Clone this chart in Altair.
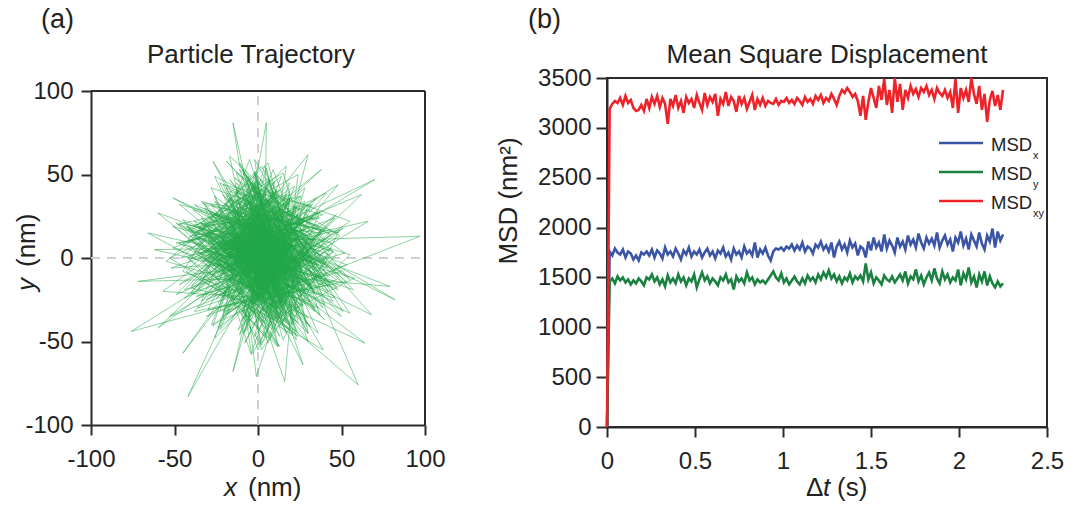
import altair as alt
import pandas as pd

FONT = "Liberation Sans"
INK = "#222222"
FRAME = "#2b2b2b"

# ---------------- panel (a): particle trajectory (nm) ----------------
traj_x = [
    3, -12, 25, -30, 8, 41, -5, -22, 15, 33, -40, 2, 19, -9, -27, 36, -15, 6, 28, -34,
    11, -3, 44, -18, 22, -46, 7, -25, 31, 0, -13, 17, -38, 26, 4, -7, 39, -21, 13, -31,
    21, -10, 5, 48, -28, -2, 16, -43, 29, 9, -16, 35, -6, 24, -36, 1, 14, -24, 42, -11,
    -15, 4, 5, -8, 97, 12, -76, 20, -3, -42, 18, 60, -20, 70, 2, 82, -10, -27, 9, -72,
    14, -66, 6, 64, -12, 38, -4, 30, 10, 27, -18, 16, 23, -1, -6, -15, 8, -45, 19, -60,
    0, -33, 18, 37, -20, 7, -49, 26, -8, 13, 45, -26, -1, 32, -14, 52, -37, 10, -5, 22,
    -19, 40, -7, 15, -29, 3, 28, -41, 12, -3, 21, -12, 51, -24, 6, -33, 17, 34, -9, 1,
    9, -21, 47, -4, -35, 24, 11, -16, 36, -28, 5, 19, -44, 30, -11, 2, 55, -6, 15, -23,
    26, -13, 4, -39, 33, 13, -2, 43, -30, 8, -20, 28, -8, 17, -52, 39, -17, 6, 23, -34,
    14, -26, 31, -5, 50, -15, 20, 1, -42, 12, -9, 37, -22, 27, -3, 9, -31, 44, -14, 7,
    -23, 18, -1, 34, -12, 25, -47, 3, 16, -27, 41, -6, 10, -18, 30, -36, 21, 0, -10, 48,
    -2, 29, -15, 11, -40, 22, 5, -25, 38, -8, 14, -32, 19, -4, 46, -19, 8, -11, 26, -48,
    4, 32, -21, 15, -7, 40, -29, 7, 24, -14, 53, -38, 2, 18, -5, -22, 35, -1, 12, -33,
    20, -9, 43, -24, 6, 29, -17, -45, 13, 37, -3, 22, -30, 9, 58, -12, 25, -6, -27, 16,
    -36, 10, -4, 31, -19, 3, 47, -10, 19, -44, 27, -2, 12, -25, 36, -13, 5, 62, -7, 17,
    66, -5, -62, 8, 79, -14, -51, 21, -60, 3, -57, 11, 55, -20, 48, 0, -53, 26, 68, -9,
    12, -25, 31, -6, 38, -29, 4, 19, -41, 15, -2, 33, -20, 8, 44, -12, -35, 23, 0, -27,
    17, -9, 35, -37, 6, 28, -19, 50, -4, -43, 21, 13, -28, 41, -15, 2, 30, -47, 10, -23,
    36, -11, 5, 24, -32, 13, -49, 19, 30, -7, 43, -21, -2, 15, -38, 26, 6, -17, 53, -28,
    2, 22, -13, 46, -26, 9, 32, -40, 17, -4, 28, -19, 57, -30, 11, -8, 39, -53, 19, -15,
    26, -34, 15, -2, 49, -21, 7, 34, -11, 22, -45, 4, 30, -17, -6, 42, -28, 13, 24, -38,
    9, -19, 40, -4, -30, 19, 55, -13, 28, -36, 2, 17, -24, 36, -9, 24, -49, 32, -2, 13,
    -15, 30, 4, -42, 19, -6, 38, -26, 13, 47, -17, 0, 26, -32, 9, 34, -11, -55, 21, 6,
    32, -23, 11, 19, -38, 2, 51, -15, -4, 28, -30, 15, 40, -19, 4, -34, 23, 9, -51, 17,
    -6, 23, -36, 13, 30, -13, 2, 45, -26, 19, -9, 34, -42, 6, 26, -21, 15, -2, 38, -32,
    13, -28, 42, -11, 21, -47, 6, 32, -17, 2, 55, -23, 17, -6, -38, 28, 11, -19, 34, -4,
    21, -2, -34, 17, 36, -15, 9, -45, 26, 4, -23, 40, -9, 15, 49, -30, 0, 19, -40, 30,
    -19, 11, 28, -26, 4, 38, -13, 23, -36, 9, 17, -4, 45, -28, 13, -42, 32, -11, 6, 26,
    15, -30, 6, 34, -17, 26, -51, 11, 19, -2, 30, -34, 2, 42, -21, 13, -6, 36, -26, 4,
    -23, 34, -9, 17, 47, -32, 13, -15, 23, -42, 6, 28, -11, 19, -28, 38, -2, 11, -47, 21,
    4, -13, 30, -38, 15, 40, -21, 0, 26, -19, 51, -6, 17, -30, 32, -4, -36, 13, 23, -11,
    28, -21, 2, 36, -26, 11, -40, 21, -9, 45, -17, 6, 32, -34, 17, -2, 26, -15, 9, 0,
    5, -8, 12, -3, 18, -14, 2, 9, -19, 7, -1, 15, -10, 4, 21, -6, -16, 11, 0, -12,
    8, -4, 16, -17, 3, 13, -9, 24, -2, -20, 10, 6, -13, 19, -7, 1, 14, -22, 5, -11,
    17, -5, 2, 11, -15, 6, -23, 9, 14, -3, 20, -10, -1, 7, -18, 12, 3, -8, 25, -13,
    1, 10, -6, 22, -12, 4, 15, -19, 8, -2, 13, -9, 27, -14, 5, -4, 18, -25, 9, -7,
    12, -16, 7, -1, 23, -10, 3, 16, -5, 10, -21, 2, 14, -8, -3, 20, -13, 6, 11, -18,
    4, -9, 19, -2, -14, 9, 26, -6, 13, -17, 1, 8, -11, 17, -4, 11, -23, 15, -1, 6,
    -7, 14, 2, -20, 9, -3, 18, -12, 6, 22, -8, 0, 12, -15, 4, 16, -5, -26, 10, 3,
    15, -11, 5, 9, -18, 1, 24, -7, -2, 13, -14, 7, 19, -9, 2, -16, 11, 4, -24, 8,
    -3, 11, -17, 6, 14, -6, 1, 21, -12, 9, -4, 16, -20, 3, 12, -10, 7, -1, 18, -15,
    6, -13, 20, -5, 10, -22, 3, 15, -8, 1, 26, -11, 8, -3, -18, 13, 5, -9, 16, -2,
    10, -1, -16, 8, 17, -7, 4, -21, 12, 2, -11, 19, -4, 7, 23, -14, 0, 9, -19, 14,
    -9, 5, 13, -12, 2, 18, -6, 11, -17, 4, 8, -2, 21, -13, 6, -20, 15, -5, 3, 12,
    7, -14, 3, 16, -8, 12, -24, 5, 9, -1, 14, -16, 1, 20, -10, 6, -3, 17, -12, 2,
    -11, 16, -4, 8, 22, -15, 6, -7, 11, -20, 3, 13, -5, 9, -13, 18, -1, 5, -22, 10,
    2, -6, 14, -18, 7, 19, -10, 0, 12, -9, 24, -3, 8, -14, 15, -2, -17, 6, 11, -5,
    13, -10, 1, 17, -12, 5, -19, 10, -4, 21, -8, 3, 15, -16, 8, -1, 12, -7, 4, 0,
]
traj_y = [
    -8, 20, -15, 5, 32, -10, -35, 14, 2, 25, -18, -28, 40, 9, -4, -22, 30, -41, 11, 17,
    35, -20, 6, -33, 18, 0, 45, -12, -26, 12, 28, -45, 22, -3, -17, 50, -30, 38, -6, -25,
    8, -38, 24, 15, 42, -14, -2, 19, -40, 30, -9, 36, -24, -47, 4, 26, -30, 10, -20, 55,
    81, -5, 81, 10, 13, -20, -44, 16, 3, -83, 22, -76, -7, 47, 15, -25, 30, 58, -12, -14,
    -3, 15, -24, -51, 7, 53, 19, 62, -15, -64, 25, -74, 4, -71, -30, -68, 12, -57, 34, -42,
    2, -12, 27, -34, 33, -6, 9, 21, -44, 16, -19, 37, -27, 6, 48, 3, -23, -9, 20, -36,
    24, -4, 38, -29, 13, -17, 31, -1, -37, 45, 0, -21, 18, -42, 28, 33, -12, 12, -3, -26,
    16, -32, -13, 23, 19, -39, 41, 5, 27, -11, -48, 36, -24, 9, 1, -15, 22, 44, -33, 7,
    -20, 14, -5, 29, 11, -27, 52, -16, -31, 39, 7, 17, -51, -1, -6, 26, 40, -36, 30, 3,
    10, 34, -41, 18, -8, -25, 6, 31, 0, -53, 21, 24, 12, -29, 43, -18, -35, 14, 35, -13,
    -22, -7, 26, 9, -43, 37, -16, 13, -28, 20, -3, -38, 46, 3, 25, -30, -11, 19, 8, -19,
    28, -14, 5, 40, -21, 1, -33, 22, 15, -9, 49, 11, -40, 30, -24, -5, 17, -46, 37, 20,
    -10, 31, 44, -27, 8, -37, 27, 13, -4, 39, -14, -32, 22, -18, 59, 15, 5, -26, 33, -2,
    18, -45, 2, 25, -18, 14, 35, -8, -30, 28, -20, 43, 10, -37, -12, 7, -28, 24, -41, 1,
    12, 37, -23, -15, 29, -5, 26, -34, 45, -19, 4, 20, -53, -1, -30, 41, -16, 38, 9, -8,
    22, 6, 5, -11, -17, 19, 36, -3, 27, -24, -20, 30, -33, 0, 44, -15, -35, 13, -34, 4,
    6, -24, 17, 34, -11, 3, -39, 26, 13, -5, 42, -19, 30, -33, 9, 20, -13, -44, 24, 2,
    -28, 37, -3, 15, 48, -17, 11, -35, 29, -8, -46, 22, 5, 39, -26, -52, 13, 32, -15, 45,
    19, -6, 54, -30, 0, 41, -22, 8, -45, 28, 15, -36, 51, -13, 32, 4, -26, 22, -4, -40,
    30, -15, 2, 24, -48, 53, -9, 17, 38, -28, 6, 58, -19, 11, -36, 26, -55, 0, 34, -11,
    -2, 21, -40, 46, 13, -24, 32, -6, 57, -30, 9, 26, -50, 17, 36, -17, 4, -34, 50, 15,
    40, -34, 11, -58, 19, 28, -13, 45, -21, 4, -38, 55, 15, -4, 30, -45, 21, -17, 6, -26,
    -13, 32, -47, 9, 38, -28, 17, 49, -36, 2, 61, -21, 24, -6, -43, 13, 36, -2, -24, 26,
    11, -43, 28, -17, 4, 47, -32, 19, -57, 34, 0, -26, 17, 42, -13, 24, -49, 30, 6, -19,
    49, -9, 19, -38, 13, 34, -55, 4, 26, -17, 40, -30, 11, 57, -23, 0, 28, -47, 17, 32,
    -30, 15, -6, 53, -40, 21, 9, -19, 36, -51, 2, 26, -34, 45, 13, -11, -28, 38, -4, 19,
    4, 45, -26, 13, -15, 30, -42, 23, -9, 55, -32, 6, 36, -49, 17, -2, 40, -21, 11, -36,
    23, -19, 42, -6, -32, 15, 51, -38, 2, 28, -13, 38, -26, 9, -53, 19, 32, -15, 47, -6,
    -38, 9, 26, -21, 47, -4, 19, -30, 36, 11, -45, 17, 55, -11, 21, -34, 6, 28, -19, 40,
    13, -32, 53, 0, -17, 30, -47, 21, -6, 17, 42, -23, 4, -40, 32, -13, 59, -28, 9, 26,
    -21, 38, -13, 19, 51, -28, 6, -55, 26, 2, -15, 34, -38, 15, -2, 45, -19, 30, -32, 9,
    17, -6, 32, -45, 11, 40, -17, 28, -36, 4, 21, -51, 13, 34, -26, 51, -11, 19, -30, 6,
    3, -11, 8, 16, -5, 2, -18, 12, 6, -2, 20, -9, 14, -15, 4, 9, -6, -20, 11, 1,
    -13, 17, -1, 7, 23, -8, 5, -16, 13, -4, -22, 10, 2, 18, -12, -25, 6, 15, -7, 21,
    9, -3, 26, -14, 0, 19, -10, 4, -21, 13, 7, -17, 24, -6, 15, 2, -12, 10, -2, -19,
    14, -7, 1, 11, -23, 25, -4, 8, 18, -13, 3, 28, -9, 5, -17, 12, -26, 0, 16, -5,
    -1, 10, -19, 22, 6, -11, 15, -3, 27, -14, 4, 12, -24, 8, 17, -8, 2, -16, 24, 7,
    19, -16, 5, -28, 9, 13, -6, 21, -10, 2, -18, 26, 7, -2, 14, -21, 10, -8, 3, -12,
    -6, 15, -22, 4, 18, -13, 8, 23, -17, 1, 29, -10, 11, -3, -20, 6, 17, -1, -11, 12,
    5, -20, 13, -8, 2, 22, -15, 9, -27, 16, 0, -12, 8, 20, -6, 11, -23, 14, 3, -9,
    23, -4, 9, -18, 6, 16, -26, 2, 12, -8, 19, -14, 5, 27, -11, 0, 13, -22, 8, 15,
    -14, 7, -3, 25, -19, 10, 4, -9, 17, -24, 1, 12, -16, 21, 6, -5, -13, 18, -2, 9,
    2, 21, -12, 6, -7, 14, -20, 11, -4, 26, -15, 3, 17, -23, 8, -1, 19, -10, 5, -17,
    11, -9, 20, -3, -15, 7, 24, -18, 1, 13, -6, 18, -12, 4, -25, 9, 15, -7, 22, -3,
    -18, 4, 12, -10, 22, -2, 9, -14, 17, 5, -21, 8, 26, -5, 10, -16, 3, 13, -9, 19,
    6, -15, 25, 0, -8, 14, -22, 10, -3, 8, 20, -11, 2, -19, 15, -6, 28, -13, 4, 12,
    -10, 18, -6, 9, 24, -13, 3, -26, 12, 1, -7, 16, -18, 7, -1, 21, -9, 14, -15, 4,
    8, -3, 15, -21, 5, 19, -8, 13, -17, 2, 10, -24, 6, 16, -12, 24, -5, 9, -14, 3,
]
traj_ticks = [-100, -50, 0, 50, 100]

# ---------------- panel (b): mean square displacement (nm^2) ----------------
dt_step = 0.015
msd_x = [
    0,
    1760, 1720, 1790, 1750, 1730, 1780, 1700, 1760, 1740, 1680,
    1720, 1670, 1750, 1730, 1760, 1720, 1780, 1700, 1770, 1740,
    1690, 1800, 1730, 1760, 1710, 1790, 1740, 1680, 1770, 1730,
    1800, 1710, 1760, 1730, 1780, 1700, 1750, 1790, 1720, 1760,
    1690, 1770, 1740, 1800, 1710, 1750, 1680, 1790, 1730, 1760,
    1700, 1810, 1740, 1770, 1720, 1850, 1700, 1780, 1740, 1800,
    1720, 1670, 1760, 1790, 1780, 1800, 1770, 1810, 1790, 1830,
    1770, 1820, 1780, 1850, 1760, 1810, 1790, 1740, 1830, 1800,
    1860, 1780, 1820, 1760, 1850, 1700, 1810, 1860, 1780, 1830,
    1750, 1870, 1800, 1840, 1720, 1810, 1790, 1700, 1860, 1770,
    1900, 1800, 1850, 1760, 1930, 1790, 1870, 1820, 1750, 1900,
    1810, 1860, 1780, 1920, 1830, 1880, 1800, 1940, 1850, 1790,
    1900, 1840, 1890, 1820, 1950, 1800, 1870, 1920, 1830, 1880,
    1760, 1900, 1850, 1960, 1820, 1890, 1780, 1930, 1870, 1810,
    1950, 1840, 1780, 1920, 1860, 1990, 1800, 1960, 1870, 1930,
]
msd_y = [
    0,
    1460, 1490, 1440, 1510, 1470, 1500, 1450, 1480, 1430, 1470,
    1440, 1490, 1460, 1420, 1500, 1480, 1530, 1460, 1500, 1430,
    1480, 1410, 1520, 1450, 1490, 1440, 1530, 1460, 1500, 1420,
    1490, 1460, 1530, 1400, 1480, 1550, 1470, 1510, 1440, 1490,
    1460, 1420, 1500, 1470, 1530, 1450, 1480, 1380, 1510, 1460,
    1490, 1440, 1550, 1470, 1500, 1430, 1480, 1450, 1470, 1440,
    1480, 1520, 1560, 1500, 1470, 1540, 1450, 1490, 1430, 1470,
    1510, 1460, 1430, 1490, 1440, 1520, 1470, 1500, 1450, 1530,
    1480, 1550, 1500, 1570, 1490, 1530, 1460, 1510, 1440, 1500,
    1470, 1540, 1450, 1510, 1480, 1520, 1460, 1640, 1480, 1550,
    1440, 1500, 1470, 1430, 1520, 1480, 1460, 1510, 1450, 1490,
    1530, 1470, 1560, 1440, 1510, 1480, 1580, 1460, 1520, 1430,
    1500, 1550, 1470, 1590, 1490, 1440, 1560, 1480, 1530, 1450,
    1500, 1470, 1580, 1420, 1540, 1480, 1600, 1450, 1510, 1400,
    1530, 1460, 1560, 1420, 1510, 1440, 1400, 1460, 1410, 1440,
]
msd_xy = [
    0,
    3190, 3240, 3270, 3250, 3300, 3230, 3320, 3250, 3280, 3200,
    3170, 3180, 3230, 3170, 3290, 3200, 3310, 3240, 3320, 3210,
    3300, 3240, 3040, 3290, 3220, 3330, 3200, 3270, 3150, 3310,
    3250, 3290, 3200, 3330, 3250, 3180, 3350, 3230, 3310, 3260,
    3340, 3120, 3290, 3240, 3360, 3220, 3310, 3270, 3160, 3320,
    3240, 3300, 3190, 3260, 3330, 3180, 3290, 3230, 3300, 3220,
    3270, 3250, 3240, 3290, 3230, 3270, 3260, 3300, 3250, 3280,
    3240, 3300, 3270, 3230, 3310, 3260, 3290, 3240, 3320, 3280,
    3330, 3250, 3300, 3270, 3340, 3290, 3230, 3320, 3380, 3350,
    3400, 3360, 3310, 3340, 3270, 3120, 3320, 3080, 3260, 3400,
    3300, 3200, 3420, 3280, 3490, 3230, 3380, 3150, 3500, 3260,
    3440, 3180, 3380, 3300, 3420, 3340, 3390, 3310, 3400, 3360,
    3420, 3330, 3380, 3290, 3400, 3350, 3320, 3380, 3300, 3360,
    3200, 3490, 3150, 3400, 3300, 3380, 3260, 3500, 3340, 3240,
    3420, 3180, 3340, 3060, 3280, 3370, 3220, 3330, 3180, 3380,
]
msd_names = ["x", "y", "xy"]
msd_colors = ["#3A55A5", "#1B8140", "#EE2229"]
msd_xticks = [0, 0.5, 1, 1.5, 2, 2.5]
msd_yticks = [0, 500, 1000, 1500, 2000, 2500, 3000, 3500]

# ---------------- helpers ----------------
def axis(values, tick, pad):
    return alt.Axis(values=values, title=None, grid=False, tickSize=tick, labelPadding=pad,
                    labelFont=FONT, labelFontSize=24, labelColor=INK,
                    domainColor=FRAME, domainWidth=2, tickColor=FRAME, tickWidth=2,
                    labelFlush=False, labelOverlap=False,
                    labelExpr="'' + datum.value")

def text(s, x, y, size=26, align="left", baseline="alphabetic", style="normal", angle=0):
    return alt.Chart(pd.DataFrame({"s": [s]})).mark_text(
        font=FONT, fontSize=size, align=align, baseline=baseline,
        fontStyle=style, angle=angle, color=INK
    ).encode(text="s:N", x=alt.value(x), y=alt.value(y))

# ---------------- panel (a) ----------------
# group origin is shared with panel (b); the square plot area starts TOP1 px lower
W1, TOP1, H1 = 334, 13, 347
traj_df = pd.DataFrame({"i": list(range(len(traj_x))), "x": traj_x, "y": traj_y})
sx1 = alt.Scale(domain=[-100, 100], nice=False, zero=False)
sy1 = alt.Scale(domain=[-100, 100], nice=False, zero=False, range=[H1, TOP1])

zero_df = pd.DataFrame({"v": [0], "lo": [-100], "hi": [100]})
zero_v = alt.Chart(zero_df).mark_rule(color="#cfcfcf", strokeWidth=2, strokeDash=[9, 7]).encode(
    x=alt.X("v:Q", scale=sx1), y=alt.Y("lo:Q", scale=sy1), y2="hi:Q")
zero_h = alt.Chart(zero_df).mark_rule(color="#cfcfcf", strokeWidth=2, strokeDash=[9, 7]).encode(
    y=alt.Y("v:Q", scale=sy1), x=alt.X("lo:Q", scale=sx1), x2="hi:Q")

traj = alt.Chart(traj_df).mark_line(color="#22A84A", strokeWidth=0.8, opacity=0.65).encode(
    x=alt.X("x:Q", scale=sx1, axis=axis(traj_ticks, 10, 12)),
    y=alt.Y("y:Q", scale=sy1, axis=axis(traj_ticks, 10, 8)),
    order="i:Q",
)

frame_df = pd.DataFrame({"s": ["frame"]})
frame_top = alt.Chart(frame_df).mark_rule(color=FRAME, strokeWidth=2).encode(
    x=alt.value(0), x2=alt.value(W1), y=alt.value(TOP1))
frame_right = alt.Chart(frame_df).mark_rule(color=FRAME, strokeWidth=2).encode(
    x=alt.value(W1), y=alt.value(TOP1), y2=alt.value(H1))

left = alt.layer(
    zero_v, zero_h, traj, frame_top, frame_right,
    text("(a)", -50, -50, size=27),
    text("Particle Trajectory", 160, -15, align="center"),
    text("x", 133, 418, style="italic"),
    text("(nm)", 157, 418),
    text("y", -56, 213, style="italic", angle=270),
    text("(nm)", -56, 189, angle=270),
).properties(width=W1, height=H1, view=alt.ViewBackground(stroke="transparent"))

# ---------------- panel (b) ----------------
W2, H2 = 440, 349
rows = []
for name, vals in zip(msd_names, [msd_x, msd_y, msd_xy]):
    for i, v in enumerate(vals):
        rows.append({"t": round(i * dt_step, 3), "msd": v, "series": name})
msd_df = pd.DataFrame(rows)

sx2 = alt.Scale(domain=[0, 2.5], nice=False, zero=False)
sy2 = alt.Scale(domain=[0, 3500], nice=False)

lines = alt.Chart(msd_df).mark_line(strokeWidth=2.6).encode(
    x=alt.X("t:Q", scale=sx2, axis=axis(msd_xticks, 10, 12)),
    y=alt.Y("msd:Q", scale=sy2, axis=axis(msd_yticks, 11, 5)),
    color=alt.Color("series:N", scale=alt.Scale(domain=msd_names, range=msd_colors), legend=None),
    order=alt.Order("series:N"),
)

legend_layers = []
for k, (name, col) in enumerate(zip(msd_names, msd_colors)):
    yy = 65 + 29 * k
    legend_layers.append(
        alt.Chart(pd.DataFrame({"s": [name]})).mark_rule(color=col, strokeWidth=2.6).encode(
            x=alt.value(332), x2=alt.value(376), y=alt.value(yy)))
    legend_layers.append(text("MSD", 384, yy + 8, size=18.5))
    legend_layers.append(text(name, 426, yy + 16, size=11))

right = alt.layer(
    lines, *legend_layers,
    text("(b)", -79, -50, size=27),
    text("Mean Square Displacement", 220, -15, align="center"),
    text("MSD (nm²)", -90, 123, align="center", angle=270),
    text("Δ", 199, 418),
    text("t", 216, 418, style="italic"),
    text("(s)", 230, 418),
).properties(width=W2, height=H2)

chart = alt.hconcat(left, right, spacing=48).properties(
    padding={"left": 13, "top": 5, "right": 0, "bottom": 0}
).configure(font=FONT).configure_view(stroke=FRAME, strokeWidth=2)

chart.save("out.html", embed_options={"renderer": "svg", "actions": False})
